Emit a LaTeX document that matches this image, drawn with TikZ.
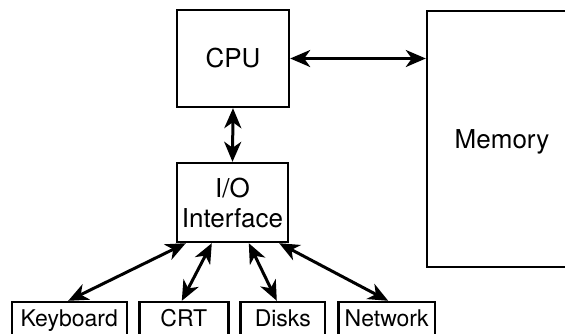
\documentclass[tikz,border=0pt]{standalone}
\usepackage{fontspec}
\setmainfont{TeX Gyre Heros}
\usepackage{tikz}
\usetikzlibrary{arrows.meta}

\begin{document}
\begin{tikzpicture}[x=1pt,y=-1pt,font=\fontsize{26}{30}\selectfont,
  box/.style={draw,line width=2.4pt,inner sep=0pt,align=center},
  dev/.style={box,minimum height=40,text height=15pt,text depth=5.6pt,font=\fontsize{23}{28}\selectfont},
  link/.style={line width=3pt,{Stealth[length=20pt,width=17pt,inset=6pt]}-{Stealth[length=20pt,width=17pt,inset=6pt]}}]
\useasboundingbox (0,0) rectangle (565,333);
\clip (0,0) rectangle (565,333);
\node[box,minimum width=112,minimum height=97] (cpu) at (233,58.5) {CPU};
\node[box,minimum width=150,minimum height=256,text depth=0pt] (mem) at (502,139) {Memory};
\node[box,minimum width=111,minimum height=79] (io) at (232.5,202.5) {I/O\\Interface};
\node[dev,minimum width=115] (kbd) at (69.2,322) {Keyboard};
\node[dev,minimum width=89] (crt) at (183.8,322) {CRT};
\node[dev,minimum width=84.3] (disks) at (282.8,322) {Disks};
\node[dev,minimum width=96.7] (net) at (386.7,322) {Network};
\draw[link] (cpu.east) -- (cpu.east -| mem.west);
\draw[link] (cpu.south) -- (io.north);
\draw[link] ([xshift=10pt]io.south west) -- ([xshift=-1pt]kbd.north);
\draw[link] ([xshift=36pt]io.south west) -- ([xshift=-2pt]crt.north);
\draw[link] ([xshift=73pt]io.south west) -- ([xshift=-6pt]disks.north);
\draw[link] ([xshift=-10pt]io.south east) -- ([xshift=1.5pt]net.north);
\end{tikzpicture}
\end{document}
